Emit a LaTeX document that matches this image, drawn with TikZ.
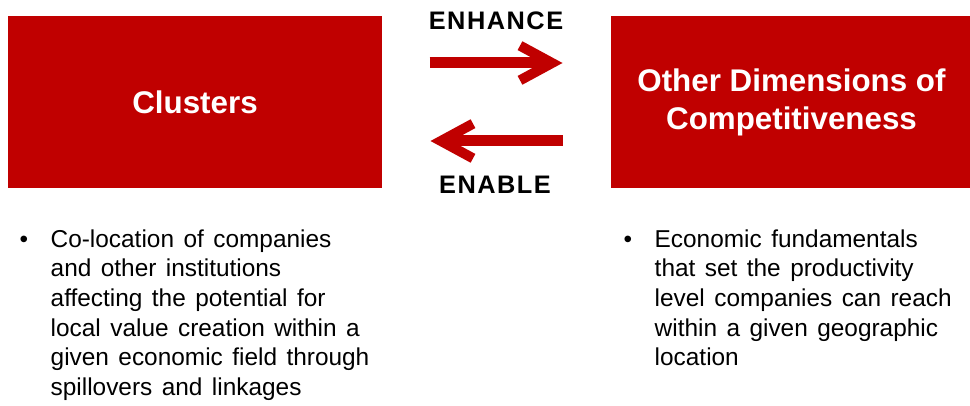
\documentclass[tikz,border=0pt]{standalone}
\usepackage{fontspec}
\setmainfont{Liberation Sans}
\usetikzlibrary{arrows.meta,calc}
\definecolor{clred}{RGB}{192,0,0}
\newcommand\bodyfont{\fontsize{18.3pt}{22.3pt}\selectfont\spaceskip 7.1pt plus 1pt minus 1pt\relax}
\tikzset{every picture/.style={line width=0.75pt}}
\tikzset{
  redbox/.style={fill=clred, draw=none, inner sep=0pt, text=white, align=center,
    font=\bfseries\fontsize{23.5pt}{28.5pt}\selectfont},
  verb/.style={inner sep=0pt, font=\bfseries\fontsize{19pt}{22pt}\selectfont\addfontfeature{LetterSpace=6}},
  bodytext/.style={anchor=base west, inner sep=0pt, font=\bodyfont},
  flow/.style={draw=clred, line width=8.25pt,
    -{Straight Barb[length=24pt, width=26pt, line width=7.5pt]}}
}

\begin{document}
\begin{tikzpicture}[x=0.75pt,y=0.75pt,yscale=-1,xscale=1]
    \useasboundingbox (0,0) rectangle (970,406);
    % Boxes
    \node[redbox, minimum width=280.5pt, minimum height=129pt] (clus) at (195,102) {Clusters};
    \node[redbox, minimum width=270.75pt, minimum height=129pt] (odc) at (791.5,102) {Other Dimensions of\\Competitiveness};
    % Connection
    \draw[flow] ($(clus.east)+(47,-39)$) -- ($(odc.west)+(-48,-39)$);
    % Connection
    \draw[flow] ($(odc.west)+(-48,39)$) -- ($(clus.east)+(48,39)$);
    % Text Node
    \node[verb] (enh) at (496,21) {ENHANCE};
    \node[verb] (enb) at (495,185) {ENABLE};
    % Text Node
    \node[bodytext] (clusdesc) at (19,247) {\textbullet\hspace{17pt}\parbox[t]{260pt}{Co-location of companies\\
    and other institutions\\
    affecting the potential for\\
    local value creation within a\\
    given economic field through\\
    spillovers and linkages}};
    % Text Node
    \node[bodytext] (odcdesc) at (623,247) {\textbullet\hspace{17pt}\parbox[t]{250pt}{Economic fundamentals\\
    that set the productivity\\
    level companies can reach\\
    within a given geographic\\
    location}};
\end{tikzpicture}
\end{document}
